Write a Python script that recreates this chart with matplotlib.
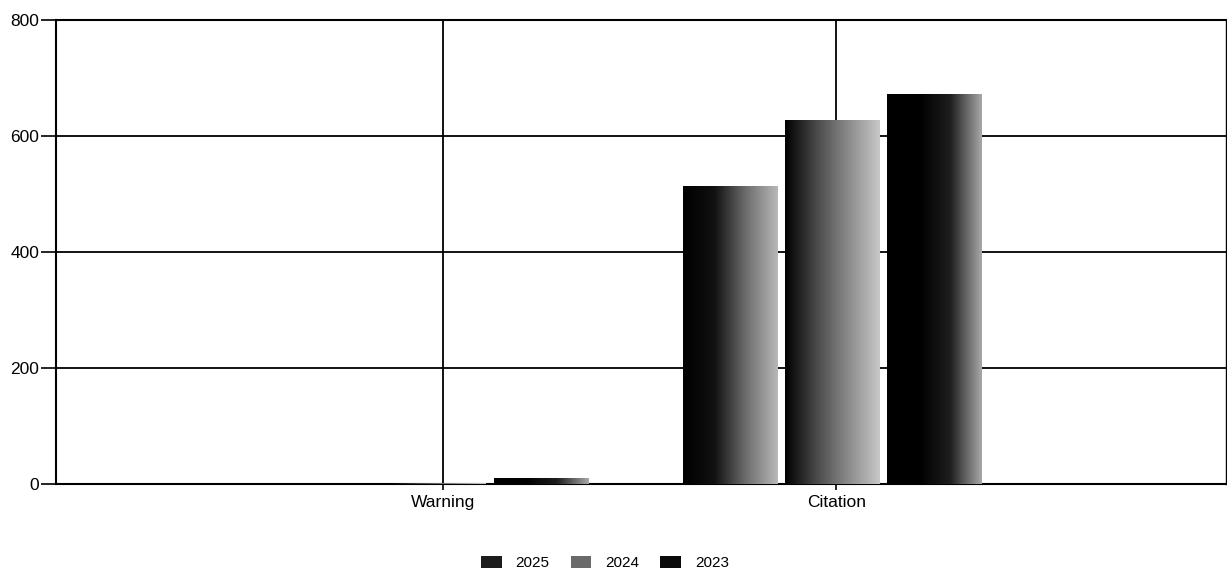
import numpy as np
import matplotlib
matplotlib.use("Agg")
import matplotlib.pyplot as plt
from matplotlib.colors import LinearSegmentedColormap
from matplotlib.patches import Patch

plt.rcParams['font.family'] = ['Liberation Sans Narrow', 'Liberation Sans', 'DejaVu Sans']

# data
categories = ["Warning", "Citation"]
years = ["2025", "2024", "2023"]
counts_2025 = [0, 513]
counts_2024 = [1, 628]
counts_2023 = [10, 672]
series = [counts_2025, counts_2024, counts_2023]

# left-to-right gradient per year (dark edge -> lighter edge), like the dithered print
ramps = {
    "2025": ["#000000", "#111111", "#6e6e6e", "#b8b8b8"],
    "2024": ["#000000", "#4a4a4a", "#8a8a8a", "#c8c8c8"],
    "2023": ["#000000", "#000000", "#1e1e1e", "#a8a8a8"],
}
legend_colors = {"2025": "#1c1c1c", "2024": "#6a6a6a", "2023": "#0a0a0a"}

fig = plt.figure(figsize=(12.27, 5.76), dpi=100)
ax = fig.add_axes([0.0456, 0.1597, 0.9536, 0.8056])

x = np.arange(len(categories))
width = 0.24
step = 0.26
shift = -0.01

for i, (yr, vals) in enumerate(zip(years, series)):
    pos = x + (i - 1) * step + shift
    bars = ax.bar(pos, vals, width, color="none", edgecolor="none", zorder=3)
    cmap = LinearSegmentedColormap.from_list("g" + yr, ramps[yr])
    grad = np.linspace(0, 1, 256).reshape(1, -1)
    for b in bars:
        h = b.get_height()
        if h <= 0:
            continue
        x0 = b.get_x()
        im = ax.imshow(grad, cmap=cmap, aspect="auto",
                       extent=(x0, x0 + b.get_width(), 0, h),
                       zorder=3, interpolation="bilinear")
        im.set_clip_path(b)

ax.set_xlim(-0.982, 1.99)
ax.set_ylim(0, 800)
ax.set_yticks([0, 200, 400, 600, 800])
ax.set_xticks(x)
ax.set_xticklabels(categories)

ax.grid(True, axis="both", color="black", linewidth=1.3, zorder=1)
ax.set_axisbelow(True)
for s in ax.spines.values():
    s.set_color("black")
    s.set_linewidth(1.5)
ax.spines["right"].set_linewidth(1.0)

ax.tick_params(axis="y", length=11, width=1.2, pad=1, labelsize=12.5)
ax.tick_params(axis="x", length=4, width=1.2, pad=4, labelsize=12.5)

handles = [Patch(facecolor=legend_colors[y], edgecolor="none") for y in years]
fig.legend(handles, years, loc="center", bbox_to_anchor=(0.493, 0.022),
           ncol=3, frameon=False, fontsize=11, handlelength=1.35,
           handleheight=0.8, handletextpad=0.9, columnspacing=1.4)

fig.savefig("out.png", dpi=100)
